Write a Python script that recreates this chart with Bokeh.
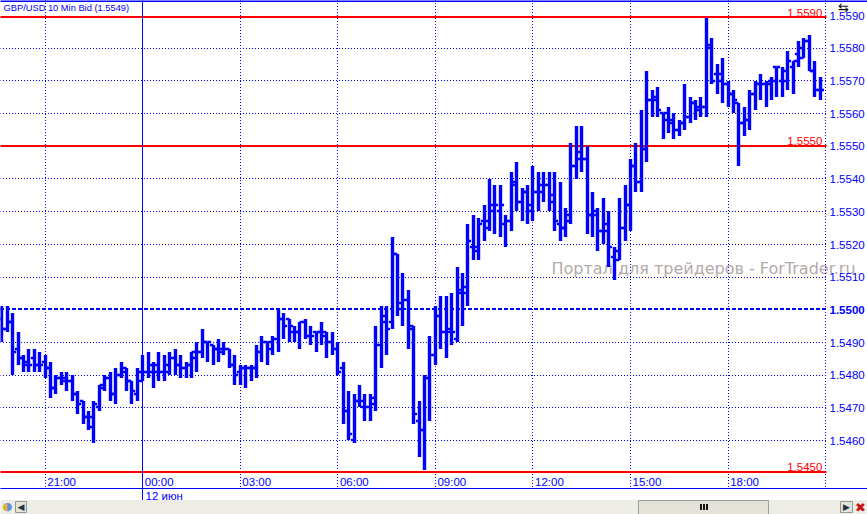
import math
from bokeh.embed import file_html
from bokeh.resources import INLINE
from bokeh.plotting import figure
from bokeh.models import (Range1d, LinearAxis, FixedTicker, Label, BoxAnnotation)
from bokeh.core.properties import value

# Bar data in pips (1.5xxx -> xxxx + 10000 below)
highs = [5501,5501,5499,5493,5486,5488,5488,5487,5486,5484,5480,5481,5481,5480,5475,5472,5469,5472,5477,5480,5481,5482,5484,5482,5478,5482,
         5486,5487,5484,5487,5486,5487,5488,5486,5484,5487,5490,5494,5490,5489,5491,5490,5488,5486,5483,5483,5483,5489,5492,5490,5492,5500,
         5499,5497,5495,5496,5497,5495,5493,5496,5493,5493,5490,5484,5475,5474,5477,5474,5474,5495,5501,5501,5522,5517,5511,5506,5495,5472,5480,5492,
         5501,5504,5504,5505,5513,5511,5526,5529,5528,5532,5540,5538,5538,5529,5542,5545,5537,5538,5544,5542,5542,5542,5542,5539,5531,
         5551,5556,5556,5550,5536,5531,5534,5530,5519,5534,5538,5546,5551,5561,5573,5567,5568,5560,5562,5560,5558,5569,5565,5564,5565,5589,5583,5575,5577,5570,5567,5563,5562,5567,5570,5572,5570,5571,5574,5574,5579,5576,5582,5583,5584,5576,5571]
lows = [5490,5493,5480,5483,5481,5481,5481,5481,5479,5473,5474,5477,5475,5472,5468,5465,5463,5459,5469,5475,5472,5471,5479,5475,5471,5472,
        5478,5479,5476,5478,5478,5480,5480,5479,5479,5479,5481,5485,5484,5483,5484,5486,5482,5477,5477,5476,5478,5479,5484,5483,5486,5487,
        5491,5490,5490,5488,5491,5489,5487,5489,5485,5486,5480,5465,5460,5459,5470,5466,5466,5469,5482,5486,5494,5498,5495,5488,5465,5455,5451,5466,
        5483,5488,5485,5489,5490,5495,5501,5515,5515,5521,5524,5523,5522,5519,5524,5530,5527,5526,5527,5530,5533,5530,5524,5521,5522,
        5526,5540,5542,5523,5522,5518,5520,5513,5509,5515,5521,5524,5536,5536,5545,5559,5559,5552,5554,5552,5553,5555,5557,5558,5559,5559,5569,5566,5563,5562,5560,5544,5553,5555,5561,5564,5562,5564,5565,5565,5567,5566,5574,5577,5573,5565,5564]
opens = [5497,5494,5496,5488,5485,5483,5485,5483,5484,5482,5476,5479,5478,5478,5474,5472,5467,5464,5470,5476,5479,5474,5480,5482,5478,5474,
         5478,5481,5481,5481,5481,5483,5485,5483,5482,5483,5485,5487,5490,5489,5488,5488,5488,5483,5481,5482,5482,5482,5487,5490,5488,5491,
         5497,5497,5493,5493,5496,5492,5493,5493,5493,5490,5488,5482,5469,5460,5472,5470,5470,5473,5489,5496,5496,5517,5502,5503,5495,5466,5463,5479,
         5486,5498,5493,5494,5491,5506,5507,5519,5519,5527,5527,5530,5530,5526,5527,5538,5533,5536,5532,5536,5536,5538,5533,5526,5525,
         5529,5544,5548,5546,5529,5530,5524,5524,5516,5515,5525,5532,5544,5539,5549,5564,5565,5560,5558,5557,5555,5557,5559,5563,5562,5562,5581,5572,5570,5569,5566,5563,5557,5558,5566,5569,5569,5570,5574,5570,5573,5574,5578,5577,5582,5573,5567]
closes = [5494,5496,5487,5485,5484,5483,5483,5483,5482,5476,5479,5479,5478,5474,5471,5467,5467,5471,5477,5479,5474,5480,5481,5478,5475,5481,
          5481,5483,5483,5481,5481,5485,5483,5482,5483,5487,5487,5490,5490,5488,5487,5488,5483,5480,5482,5482,5482,5487,5490,5490,5491,5497,
          5495,5495,5493,5496,5492,5492,5493,5492,5490,5488,5481,5469,5462,5472,5472,5470,5471,5489,5498,5494,5517,5500,5503,5494,5468,5463,5479,5486,
          5498,5493,5493,5493,5505,5505,5521,5518,5526,5525,5532,5532,5532,5527,5539,5533,5536,5530,5536,5538,5538,5535,5527,5525,5527,
          5544,5546,5546,5529,5529,5524,5526,5519,5518,5525,5532,5544,5539,5549,5564,5564,5561,5560,5558,5555,5557,5559,5563,5561,5562,5580,5570,5572,5569,5566,5564,5557,5558,5566,5569,5569,5569,5570,5574,5570,5576,5576,5580,5582,5573,5567,5567]

time_grid_bars = [8, 44, 62, 80, 98, 116, 134, 152]
time_label_bars = [8, 26, 44, 62, 80, 98, 116, 134]
time_labels = ["21:00", "00:00", "03:00", "06:00", "09:00", "12:00", "15:00", "18:00"]
date_label = "12 июн"
price_ticks = [1.5590, 1.5580, 1.5570, 1.5560, 1.5550, 1.5540, 1.5530, 1.5520, 1.5510,
               1.5500, 1.5490, 1.5480, 1.5470, 1.5460]
grid_levels = [1.5580, 1.5570, 1.5560, 1.5540, 1.5530, 1.5520, 1.5510,
               1.5490, 1.5480, 1.5470, 1.5460]
red_levels = [1.55894, 1.5550, 1.54503]
red_labels = ["1.5590", "1.5550", "1.5450"]
dashed_level = 1.5500
title_text = "GBP/USD 10 Min Bid (1.5549)"
watermark = "Портал для трейдеров - ForTrader.ru"

BLUE = "#0000ff"
RED = "#ff0000"
FONT = "Liberation Sans"
W, H = 867, 514
CHART_R, CHART_B = 826, 488     # right edge of the chart area, axis line row
BAR = 5.42
X0 = 26 - 142.7 / BAR
PX = 3.269
PY0 = 309.4


def y_at(py):
    return 1 + (5500 + (PY0 - py) / PX) / 10000


def py_of(price_value):
    return PY0 + (1.55 - price_value) * 10000 * PX


def px_of(bar):
    return (bar - X0) * BAR


def x_at(px):
    return X0 + px / BAR


# The drawing context is offset by half a pixel, so odd-width lines are crisp at whole coordinates
def snap_x(bar):
    return x_at(math.floor(px_of(bar)))


def snap_y(pips):         # 2px tick on whole rows
    return y_at(round(py_of(1 + pips / 10000)) - 0.5)


def snap_end(pips):       # end of a bar on a whole row
    return y_at(round(py_of(1 + pips / 10000)) - 0.5)


def snap_grid(level):     # 1px row
    return y_at(math.floor(py_of(level) + 0.3))


p = figure(width=W, height=H, frame_width=W, frame_height=H,
           output_backend="svg", toolbar_location=None,
           x_range=Range1d(X0, X0 + W / BAR), y_range=Range1d(y_at(H), y_at(0)),
           x_axis_type=None, y_axis_type=None,
           min_border_left=0, min_border_top=0, min_border_right=0, min_border_bottom=0,
           outline_line_color=None, background_fill_color="white", border_fill_color="white")
p.grid.visible = False

# Time axis: labels sit just right of their grid line, above the axis line
label_shift = 2.95
x_ticks = [b + label_shift for b in time_label_bars]
xaxis = LinearAxis(ticker=FixedTicker(ticks=x_ticks),
                   major_label_overrides=dict(zip(x_ticks, time_labels)),
                   major_tick_line_color=None, minor_tick_line_color=None,
                   major_tick_out=0, major_tick_in=0,
                   axis_line_color=None,
                   major_label_standoff=-39,
                   major_label_text_color=BLUE, major_label_text_font=FONT,
                   major_label_text_font_size="11.5px")
p.add_layout(xaxis, "below")

yaxis = LinearAxis(ticker=FixedTicker(ticks=price_ticks),
                   major_label_overrides={t: ("" if t == dashed_level else f"{t:.4f}") for t in price_ticks},
                   major_tick_line_color=None, minor_tick_line_color=None,
                   major_tick_out=0, major_tick_in=0,
                   axis_line_color=None, major_label_standoff=-38,
                   major_label_text_color=BLUE, major_label_text_font=FONT,
                   major_label_text_font_size="11.5px")
p.add_layout(yaxis, "right")


def box(l, t, r, b, fill, line=None):
    d = 0 if line else 0.5
    p.add_layout(BoxAnnotation(left=l - d, right=r - d, top=t - d, bottom=b - d,
                               left_units="canvas", right_units="canvas",
                               top_units="canvas", bottom_units="canvas",
                               fill_color=fill, fill_alpha=1,
                               line_color=line, line_alpha=1 if line else 0, line_width=1))


def lab(x, y, text, color=BLUE, size="11.5px", font=FONT, style="normal", align="left", baseline="top", level="annotation"):
    p.add_layout(Label(x=x, y=y, x_units="canvas", y_units="canvas", text=text, text_color=color,
                       text_font=font, text_font_size=size, text_font_style=style,
                       text_align=align, text_baseline=baseline, level=level))


# Dotted grid (glyphs, so that dots stay on whole pixels)
x_left, x_right = x_at(-0.5), x_at(CHART_R)
gx = [snap_x(b) for b in time_grid_bars]
p.segment(gx, [y_at(-0.5)] * len(gx), gx, [y_at(CHART_B)] * len(gx), line_color=BLUE, line_width=1, line_dash="1 2")
gy = [snap_grid(v) for v in grid_levels]
p.segment([x_left] * len(gy), gy, [x_right] * len(gy), gy, line_color=BLUE, line_width=1, line_dash="1 2")

# Watermark sits below the bars
lab(551, 258, watermark, color="#b3aaaa", size="16px", font="DejaVu Sans", level="underlay")

ry = [y_at(round(py_of(v)) - 0.5) for v in red_levels]
p.segment([x_left] * 3, ry, [x_right] * 3, ry, line_color=RED, line_width=2)
dy = y_at(round(py_of(dashed_level)) - 0.5)
p.segment([x_left], [dy], [x_right], [dy], line_color=BLUE, line_width=2, line_dash="4 2")

xs = list(range(len(highs)))
sx = [snap_x(x) for x in xs]
tw = 3.6 / BAR
p.segment(sx, [snap_end(v) for v in lows], sx, [snap_end(v) for v in highs],
          line_color=BLUE, line_width=3.4)
p.segment([x - tw for x in sx], [snap_y(v) for v in opens], sx, [snap_y(v) for v in opens],
          line_color=BLUE, line_width=2.4)
p.segment(sx, [snap_y(v) for v in closes], [x + tw for x in sx], [snap_y(v) for v in closes],
          line_color=BLUE, line_width=2.4)

p.text([151.3] * 3, red_levels, text=red_labels, text_align="right", text_baseline="bottom",
       text_color=RED, text_font=value(FONT), text_font_size="11.5px", y_offset=-1)

# Window furniture
box(0, 0, W, 2, BLUE)
box(142, 0, 143, 500, BLUE)
box(0, 488, W, 489, BLUE)
box(0, 500, W, H, "#eeede5")
box(638, 500, 768, 514, "#e4e2d8", "#99a0a0")
box(700, 504, 702, 510, "#111111")
box(703, 504, 705, 510, "#111111")
box(706, 504, 708, 510, "#111111")
box(15, 501, 26, 512, "#e6e4da", "#8d9aa2")
box(840, 501, 852, 512, "#e6e4da", "#8d9aa2")

lab(3, 2, title_text, size="9.3px")
lab(829, 309.4, "1.5500", style="bold", baseline="middle")
lab(145, 489, date_label)
lab(7, 506, "●", color="#5f92d6", size="11px", align="center", baseline="middle", font="DejaVu Sans")
lab(5, 506, "◖", color="#e8b020", size="10px", align="center", baseline="middle", font="DejaVu Sans")
lab(20.5, 506.5, "◀", color="#223344", size="9px", align="center", baseline="middle", font="DejaVu Sans")
lab(846, 506.5, "▶", color="#223344", size="9px", align="center", baseline="middle", font="DejaVu Sans")
lab(860, 506.5, "✖", color="#cc1111", size="13px", align="center", baseline="middle", font="DejaVu Sans")
lab(843, 7, "⇆", color="#111111", size="13px", align="center", baseline="middle", font="DejaVu Sans")

open("out.html", "w").write(file_html(p, INLINE))
